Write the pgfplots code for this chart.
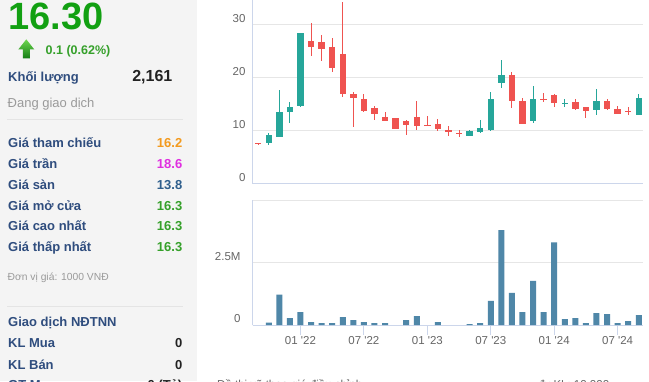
\documentclass[border=0pt]{standalone}
\usepackage{fontspec}
\setmainfont{Liberation Sans}
\usepackage{pgfplots}
\pgfplotsset{compat=1.18}
\usepackage{pgfplotstable}

\definecolor{upc}{HTML}{26A69A}
\definecolor{dnc}{HTML}{EF5350}
\definecolor{volc}{HTML}{4F87A8}
\definecolor{gridc}{HTML}{E6E6E6}
\definecolor{axisc}{HTML}{CCD6EB}
\definecolor{tickc}{HTML}{666666}
\definecolor{panel}{HTML}{F4F4F4}
\definecolor{sepc}{HTML}{E4E4E4}
\definecolor{navy}{HTML}{2F4D7E}
\definecolor{bigg}{HTML}{12A012}
\definecolor{gtxt}{HTML}{9A9A9A}
\definecolor{orng}{HTML}{F39A1E}
\definecolor{mag}{HTML}{E02FE0}
\definecolor{blu}{HTML}{2E5E8C}
\definecolor{grn}{HTML}{35A02A}
\definecolor{dark}{HTML}{222222}

% monthly candles, m = months from Jan 2022
\pgfplotstableread{
m O H L C
-3 7.8 9.7 7.4 9.2
-2 8.9 17.7 8.8 13.5
-1 13.5 15.4 11.5 14.6
0 14.8 28.5 14.5 28.5
16 9.1 10.1 9.1 10.0
17 9.8 12.1 9.7 10.6
18 10.1 17.4 10.0 16.0
19 19.1 23.4 18.2 20.6
22 11.9 18.5 11.6 16.0
25 15.1 16.0 14.6 15.3
28 14.0 17.9 13.1 15.7
32 13.1 17.0 13.1 16.3
}\upT

\pgfplotstableread{
m O H L C
-4 7.8 7.8 7.4 7.6
1 26.9 30.4 24.2 25.8
2 26.8 28.1 23.3 25.4
3 25.8 27.5 21.2 21.9
4 24.5 34.3 16.4 16.9
5 16.9 17.3 10.8 16.3
6 16.0 16.9 13.5 13.8
7 14.3 14.7 12.1 13.3
8 12.6 13.6 11.8 11.8
9 12.4 12.4 10.4 10.4
10 11.9 12.0 9.3 11.2
11 12.6 15.7 10.1 11.0
12 11.2 12.9 11.0 11.0
13 11.4 12.3 10.0 10.4
14 10.25 10.9 9.05 9.75
15 9.7 10.1 8.9 9.4
20 20.6 21.2 14.4 15.7
21 15.7 16.2 11.3 11.4
23 16.1 17.1 15.5 15.9
24 16.8 17.0 14.6 15.2
26 15.4 16.0 14.0 14.2
27 14.5 14.5 12.5 13.8
29 15.7 16.0 14.0 14.2
30 14.2 14.8 13.3 13.3
31 13.8 14.5 13.0 13.6
}\dnT

\newcommand\lbl[2]{\node[anchor=base west,inner sep=0pt,text=navy,font=\fontsize{13}{15}\selectfont\bfseries] at (8,#1) {#2};}
\newcommand\val[3]{\node[anchor=base east,inner sep=0pt,text=#2,font=\fontsize{13}{15}\selectfont\bfseries] at (182.5,#1) {#3};}

\pgfplotsset{
  candle/.style 2 args={draw=none, mark=none, forget plot,
    error bars/.cd, y dir=both, y explicit, error mark=none,
    error bar style={line width=#1, draw=#2, solid}},
}

\begin{document}
\begin{tikzpicture}
\useasboundingbox (0,0) rectangle (649pt,381pt);
\clip (0,0) rectangle (649pt,381pt);
\fill[white] (0,0) rectangle (649pt,381pt);
\fill[panel] (0,0) rectangle (197pt,381pt);

\begin{scope}[x=1pt,y=-1pt,shift={(0pt,381pt)}]
\node[anchor=base west,inner sep=0pt,text=bigg,font=\fontsize{38}{40}\selectfont\bfseries] at (8.3,30) {16.30};
\shade[top color={rgb,255:red,110;green,215;blue,80},bottom color={rgb,255:red,20;green,125;blue,20}]
  (26.3,39.3) -- (34.3,49.5) -- (29.8,49.5) -- (29.8,58.3) -- (22.8,58.3) -- (22.8,49.5) -- (18.3,49.5) -- cycle;
\node[anchor=base west,inner sep=0pt,text=grn,font=\fontsize{12.5}{14}\selectfont\bfseries] at (45.5,54.3) {0.1 (0.62\%)};
\lbl{81.7}{Khối lượng}
\node[anchor=base east,inner sep=0pt,text=dark,font=\fontsize{16}{18}\selectfont\bfseries] at (172.5,81.3) {2,161};
\node[anchor=base west,inner sep=0pt,text=gtxt,font=\fontsize{13}{15}\selectfont] at (7.5,107.3) {Đang giao dịch};
\draw[sepc,line width=1pt] (7,120) -- (183,120);
\lbl{147.7}{Giá tham chiếu}\val{147.7}{orng}{16.2}
\lbl{168.5}{Giá trần}\val{168.5}{mag}{18.6}
\lbl{189.3}{Giá sàn}\val{189.3}{blu}{13.8}
\lbl{210.1}{Giá mở cửa}\val{210.1}{grn}{16.3}
\lbl{230.9}{Giá cao nhất}\val{230.9}{grn}{16.3}
\lbl{251.7}{Giá thấp nhất}\val{251.7}{grn}{16.3}
\node[anchor=base west,inner sep=0pt,text=gtxt,font=\fontsize{10.3}{12}\selectfont] at (7.5,280.7) {Đơn vị giá: 1000 VNĐ};
\draw[sepc,line width=1pt] (7,306.5) -- (183,306.5);
\lbl{326.7}{Giao dịch NĐTNN}
\lbl{347.7}{KL Mua}\val{347.7}{dark}{0}
\lbl{369}{KL Bán}\val{369}{dark}{0}
\lbl{389.5}{GT Mua}\val{389.5}{dark}{0 (Tỷ)}
\node[anchor=base west,inner sep=0pt,text=tickc,font=\fontsize{11.5}{13}\selectfont] at (217,388) {Đồ thị vẽ theo giá điều chỉnh};
\node[anchor=base west,inner sep=0pt,text=tickc,font=\fontsize{11.5}{13}\selectfont] at (538,388) {đv KL: 10,000};
\end{scope}

% price panel
\begin{axis}[
  at={(252.7pt,197pt)}, anchor=south west,
  scale only axis, width=390.3pt, height=185.5pt,
  xmin=-4.52, xmax=32.4, ymin=0, ymax=35,
  axis lines=left, axis line style={-, draw=axisc, line width=1pt},
  xtick=\empty, ytick={0,10,20,30},
  ymajorgrids, grid style={draw=gridc, line width=1pt},
  major tick length=0pt,
  /pgf/number format/assume math mode=true,
  yticklabel style={font=\fontsize{11.5}{13}\selectfont, text=tickc, anchor=east, inner sep=0pt, xshift=-7pt, yshift=6pt},
]
\addplot[candle={1pt}{upc}]
  table[x=m, y expr={(\thisrow{H}+\thisrow{L})/2}, y error expr={(\thisrow{H}-\thisrow{L})/2}] {\upT};
\addplot[candle={6.5pt}{upc}]
  table[x=m, y expr={(\thisrow{O}+\thisrow{C})/2}, y error expr={abs(\thisrow{C}-\thisrow{O})/2}] {\upT};
\addplot[candle={1pt}{dnc}]
  table[x=m, y expr={(\thisrow{H}+\thisrow{L})/2}, y error expr={(\thisrow{H}-\thisrow{L})/2}] {\dnT};
\addplot[candle={6.5pt}{dnc}]
  table[x=m, y expr={(\thisrow{O}+\thisrow{C})/2}, y error expr={abs(\thisrow{C}-\thisrow{O})/2}] {\dnT};
\end{axis}

% volume panel (millions)
\begin{axis}[
  at={(252.7pt,56pt)}, anchor=south west,
  scale only axis, width=390.3pt, height=125pt,
  xmin=-4.52, xmax=32.4, ymin=0, ymax=5,
  axis lines=left, axis line style={-, draw=axisc, line width=1pt},
  xtick={0,6,12,18,24,30},
  xticklabels={01 \textquotesingle 22,07 \textquotesingle 22,01 \textquotesingle 23,07 \textquotesingle 23,01 \textquotesingle 24,07 \textquotesingle 24},
  ytick={0,2.5,5}, yticklabels={0,2.5M,{}},
  ymajorgrids, grid style={draw=gridc, line width=1pt},
  xtick align=outside, major tick length=10pt,
  ytick style={draw=none}, xtick style={draw=axisc, line width=1pt},
  yticklabel style={font=\fontsize{11.5}{13}\selectfont, text=tickc, anchor=east, inner sep=0pt, xshift=-7pt, yshift=6pt},
  xticklabel style={font=\fontsize{11.5}{13}\selectfont, text=tickc, anchor=north, inner sep=0pt, yshift=-1pt},
]
\addplot[ybar, bar width=6pt, fill=volc, draw=none] coordinates {
(-3,0.10) (-2,1.22) (-1,0.28) (0,0.52) (1,0.12) (2,0.08) (3,0.08) (4,0.32) (5,0.20) (6,0.12)
(7,0.08) (8,0.08) (10,0.20) (11,0.36) (13,0.12) (16,0.04) (17,0.08) (18,0.97) (19,3.80)
(20,1.29) (21,0.52) (22,1.77) (23,0.52) (24,3.31) (25,0.24) (26,0.28) (27,0.08) (28,0.48)
(29,0.44) (30,0.08) (31,0.16) (32,0.40)
};
\end{axis}
\end{tikzpicture}
\end{document}
